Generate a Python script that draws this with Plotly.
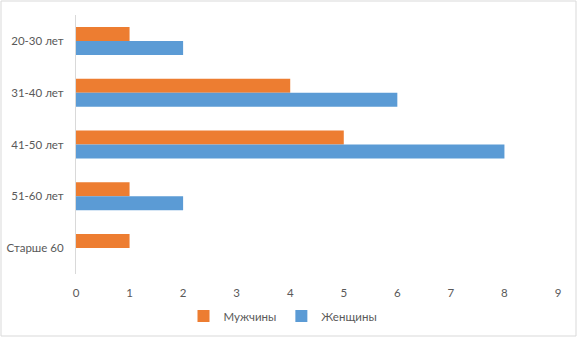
import plotly.graph_objects as go

categories = ["20-30 лет", "31-40 лет", "41-50 лет", "51-60 лет", "Старше 60"]
men = [1, 4, 5, 1, 1]
women = [2, 6, 8, 2, 0]
x_ticks = list(range(0, 10))

W, H = 578, 338
L, R, T, B = 76, 20, 15, 64
pw, ph = W - L - R, H - T - B

fig = go.Figure()
fig.add_trace(go.Bar(y=categories, x=men, name="Мужчины", orientation="h",
                     marker=dict(color="#ED7D31", line=dict(width=0))))
fig.add_trace(go.Bar(y=categories, x=women, name="Женщины", orientation="h",
                     marker=dict(color="#5B9BD5", line=dict(width=0))))

fig.update_layout(
    width=W, height=H,
    margin=dict(l=L, r=R, t=T, b=B, autoexpand=False),
    barmode="group", bargap=0.46, bargroupgap=0,
    paper_bgcolor="white", plot_bgcolor="white",
    font=dict(family="Lato, Open Sans, sans-serif", size=11.5, color="#595959"),
    xaxis=dict(range=[0, 9], tickvals=x_ticks, showgrid=False, zeroline=False,
               showline=False, ticks="", ticklabelstandoff=10, automargin=False),
    yaxis=dict(autorange="reversed", showgrid=False, zeroline=False, showline=True,
               linecolor="#D9D9D9", linewidth=1, ticks="", ticklabelstandoff=9,
               automargin=False),
    legend=dict(orientation="h", x=(W / 2 - 6 - L) / pw, xanchor="center",
                y=(T + ph - 316) / ph, yanchor="middle",
                font=dict(size=11.5, color="#595959"), itemwidth=30),
    showlegend=True,
)

fig.add_shape(type="rect", xref="paper", yref="paper",
              x0=(1 - L) / pw, x1=(576 - L) / pw,
              y0=(T + ph - 336) / ph, y1=(T + ph - 1) / ph,
              line=dict(color="#D9D9D9", width=1), fillcolor="rgba(0,0,0,0)", layer="above")

fig.write_html("out.html", config={"displayModeBar": False},
               post_script="document.body.style.margin='0';")
